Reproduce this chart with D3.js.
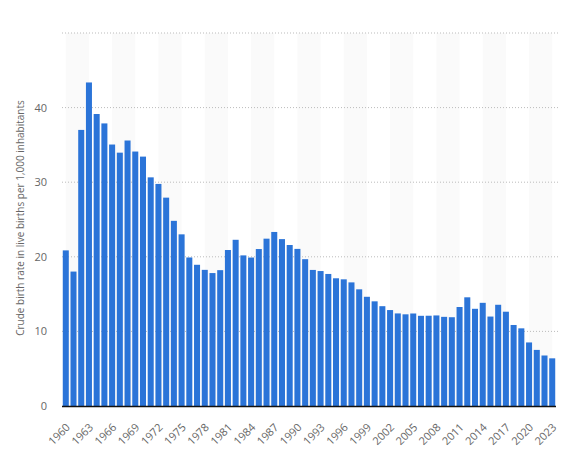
<!DOCTYPE html>
<html><head><meta charset="utf-8">
<script src="https://cdn.jsdelivr.net/npm/d3@7"></script>
<style>body{margin:0;background:#fff}svg{display:block}text{font-family:"Open Sans",Lato,sans-serif}</style>
</head><body><svg id="c" width="566" height="471"></svg>
<script>
const years = d3.range(1960, 2024).map(String);
const birthRate = [20.86,18.02,37.01,43.37,39.14,37.88,35.05,33.96,35.59,34.11,33.43,30.65,29.77,27.93,24.82,23.01,19.91,18.93,18.25,17.82,18.21,20.91,22.28,20.19,19.9,21.04,22.43,23.33,22.37,21.58,21.06,19.68,18.24,18.09,17.7,17.12,16.98,16.57,15.64,14.64,14.03,13.38,12.86,12.41,12.29,12.4,12.09,12.1,12.14,11.95,11.9,13.27,14.57,13.03,13.83,11.99,13.57,12.64,10.86,10.41,8.52,7.52,6.77,6.39];
const yTicks = [0,10,20,30,40,50];
const yTitle = "Crude birth rate in live births per 1,000 inhabitants";

const svg = d3.select("#c");
const L = 62, R = 556, T = 33, B = 406;
const x = d3.scaleBand().domain(years).range([L, R]).paddingInner(0.22).paddingOuter(0.1);
const y = d3.scaleLinear().domain([0, 50]).range([B, T]);

// alternating bands
const cx = d => x(d) + x.bandwidth()/2;
const bandStarts = years.filter((d,i) => i % 6 === 0 && i + 3 < years.length);
svg.append("g").selectAll("rect").data(bandStarts).join("rect")
  .attr("x", d => cx(d)).attr("width", d => cx(years[years.indexOf(d)+3]) - cx(d))
  .attr("y", T).attr("height", B - T).attr("fill", "#fafafa");

// gridlines
svg.append("g").selectAll("line").data(yTicks.filter(t => t > 0)).join("line")
  .attr("x1", L).attr("x2", 558).attr("y1", d => y(d)).attr("y2", d => y(d))
  .attr("stroke", "#bbb").attr("stroke-width", 1).attr("stroke-dasharray", "1,2");

// bars
svg.append("g").selectAll("rect").data(years).join("rect")
  .attr("x", d => x(d)).attr("width", x.bandwidth())
  .attr("y", (d,i) => y(birthRate[i])).attr("height", (d,i) => B - y(birthRate[i]))
  .attr("fill", "#2b74d8");

// axis line
svg.append("line").attr("x1", L).attr("x2", R).attr("y1", B + 0.5).attr("y2", B + 0.5)
  .attr("stroke", "#111").attr("stroke-width", 1.5);

// y axis labels
const yAxis = d3.axisLeft(y).tickValues(yTicks.filter(t => t < 50)).tickSize(0).tickPadding(0);
const gy = svg.append("g").attr("transform", `translate(${L - 15},0)`).call(yAxis);
gy.select(".domain").remove();
gy.selectAll("text").attr("fill", "#666").attr("font-size", 11).attr("font-family", "'Open Sans',sans-serif");

// x axis labels
const xTickVals = years.filter((d,i) => i % 3 === 0);
const xAxis = d3.axisBottom(x).tickValues(xTickVals).tickSize(0).tickPadding(0);
const gx = svg.append("g").attr("transform", `translate(0,${B})`).call(xAxis);
gx.select(".domain").remove();
gx.selectAll("text").attr("fill", "#666").attr("font-size", 11).attr("font-family", "'Open Sans',sans-serif")
  .attr("text-anchor", "end").attr("dy", 0)
  .attr("transform", "translate(5,22) rotate(-45)");

// y title
svg.append("text").attr("transform", `translate(24,218) rotate(-90)`)
  .attr("text-anchor", "middle").attr("fill", "#666").attr("font-size", 10)
  .text(yTitle);
</script></body></html>
